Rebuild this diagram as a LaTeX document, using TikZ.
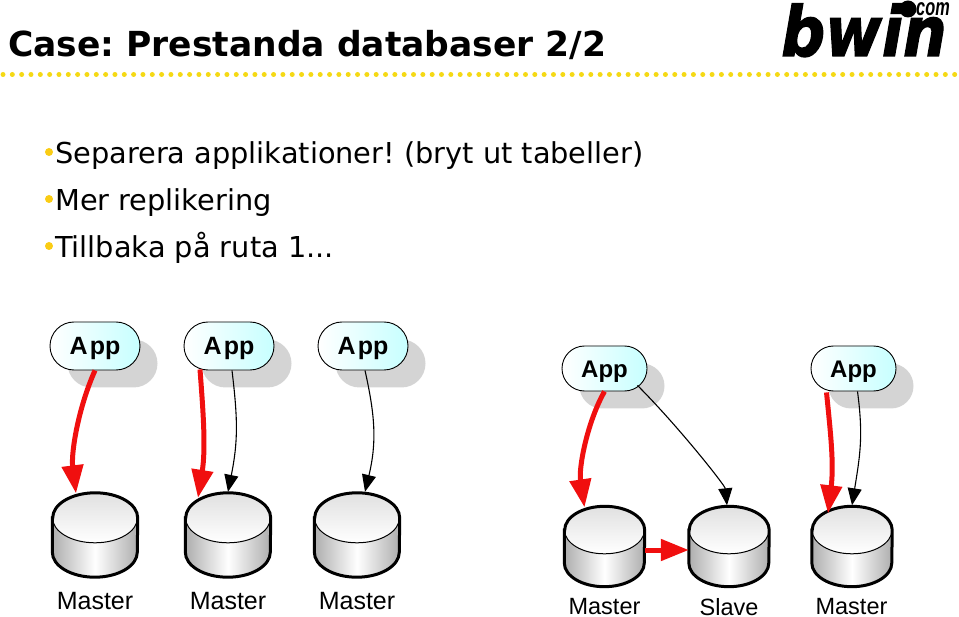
\documentclass[tikz,border=0pt]{standalone}
\usepackage{graphicx}
\usepackage{fontspec}
\setmainfont{DejaVu Sans}
\newfontfamily\arial{Liberation Sans}
\newfontfamily\logofont[UprightFont=* Bold Oblique,FakeBold=2]{DejaVu Sans}
\usetikzlibrary{arrows.meta,shapes.misc,shadows}
\definecolor{dotyellow}{RGB}{245,217,20}
\definecolor{bulletyellow}{RGB}{250,204,20}
\definecolor{linkred}{RGB}{240,15,15}
\tikzset{
  appbox/.style={rounded rectangle,draw,line width=0.9pt,left color=white,right color=cyan!22,
    minimum width=90pt,minimum height=48pt,inner sep=0pt,text=black,text height=20pt,text depth=2pt,
    font=\arial\fontsize{25}{25}\selectfont\bfseries,
    drop shadow={shadow xshift=17.5pt,shadow yshift=-17.5pt,opacity=1,fill=black!17}},
  appsmall/.style={appbox,minimum width=85pt,minimum height=45pt,
    font=\arial\fontsize{24}{24}\selectfont\bfseries},
  dbnode/.style={rectangle,inner sep=0pt},
  dbbody/.style={left color=black!32,right color=black!32,middle color=white},
  dbtop/.style={draw,line width=1pt,top color=black!12,bottom color=white},
  dbline/.style={line width=3pt},
  dblabel/.style={font=\arial\fontsize{25}{25}\selectfont,inner sep=0pt},
  dblabelsmall/.style={dblabel,font=\arial\fontsize{23.5}{24}\selectfont},
  bulletline/.style={anchor=base west,inner sep=0pt,font=\fontsize{28.8}{29}\selectfont},
  bulletdot/.style={circle,fill=bulletyellow,minimum size=8pt,inner sep=0pt},
  readlink/.style={line width=5pt,draw=linkred,-{Triangle[length=28pt,width=21pt,fill=linkred]}},
  writelink/.style={line width=1.1pt,-{Triangle[length=17pt,width=14pt]}}
}
% one disk: name, position, radii of the lid, height
\newcommand{\dbdisk}[5]{
  \node[dbnode,minimum width=2*#3 pt,minimum height=#5 pt] (#1) at (#2) {};
  \shade[dbbody] ([yshift=-#4pt]#1.north west) -- ([yshift=#4pt]#1.south west)
    arc [start angle=180,end angle=360,x radius=#3pt,y radius=#4pt]
    -- ([yshift=-#4pt]#1.north east) -- cycle;
  \draw[dbtop] ([yshift=-#4pt]#1.north) ellipse [x radius=#3pt,y radius=#4pt];
  \draw[dbline] ([yshift=-#4pt]#1.north west) -- ([yshift=#4pt]#1.south west)
    arc [start angle=180,end angle=360,x radius=#3pt,y radius=#4pt]
    -- ([yshift=-#4pt]#1.north east)
    arc [start angle=0,end angle=180,x radius=#3pt,y radius=#4pt] -- cycle;
}
\begin{document}
\frenchspacing
\begin{tikzpicture}[x=1pt,y=-1pt]
\useasboundingbox (0,0) rectangle (959,617);

% heading
\node[anchor=base west,inner sep=0pt,font=\fontsize{34.5}{35}\selectfont\bfseries] (title) at (8,57) {Case: Prestanda databaser 2/2};
\draw[dotyellow,line width=5pt,line cap=round,dash pattern=on 0pt off 9.33pt] (3,74.5) -- (959,74.5);

% logo
\node[anchor=base west,inner sep=0pt,font=\logofont\fontsize{69}{69}\selectfont] (logo) at (781,56) {\scalebox{0.89}[1]{bwin}};
\node[circle,fill=black,minimum size=17pt,inner sep=0pt] (logodot) at (908,9) {};
\node[anchor=base west,inner sep=0pt,font=\arial\fontsize{24}{24}\selectfont\bfseries\itshape] (logocom) at (916,16) {\scalebox{0.68}[1]{com}};

% bullets
\node[bulletdot] (b1) at (49,152) {};
\node[bulletdot] (b2) at (49,199) {};
\node[bulletdot] (b3) at (49,246) {};
\node[bulletline] (t1) at (55,164) {Separera applikationer! (bryt ut tabeller)};
\node[bulletline] (t2) at (55,211) {Mer replikering};
\node[bulletline] (t3) at (55,258) {Tillbaka på ruta 1...};

% left group
\node[appbox] (app1) at (95,346) {A\kern2pt pp};
\node[appbox] (app2) at (229,346) {A\kern2pt pp};
\node[appbox] (app3) at (363,346) {A\kern2pt pp};
\dbdisk{m1}{95,535}{42.5}{25}{84}
\dbdisk{m2}{228,535}{42.5}{25}{84}
\dbdisk{m3}{357,535}{42.5}{25}{84}
\node[dblabel] (m1l) at (95,601) {Master};
\node[dblabel] (m2l) at (228,601) {Master};
\node[dblabel] (m3l) at (357,601) {Master};

% right group
\node[appsmall] (app4) at (604.5,368.5) {App};
\node[appsmall] (app5) at (853.5,368.5) {App};
\dbdisk{m4}{604.5,546.5}{40}{23.75}{80}
\dbdisk{s1}{729,546.5}{40}{23.75}{80}
\dbdisk{m5}{852,546.5}{40}{23.75}{80}
\node[dblabelsmall] (m4l) at (604.5,607) {Master};
\node[dblabelsmall] (s1l) at (729,607) {Slave};
\node[dblabelsmall] (m5l) at (851.5,607) {Master};

% links
\draw[readlink] (app1.south) .. controls +(-17,38) and +(-5,-40) .. ([xshift=-19pt,yshift=-0.5pt]m1.north);
\draw[readlink] ([xshift=-29pt,yshift=1pt]app2.south) .. controls +(3,40) and +(8,-50) .. ([xshift=-30pt,yshift=-5pt]m2.north);
\draw[writelink] ([xshift=3pt]app2.south) .. controls +(6,50) and +(10,-50) .. ([yshift=1pt]m2.north);
\draw[writelink] ([xshift=2pt]app3.south) .. controls +(10,45) and +(12,-50) .. ([xshift=8pt,yshift=1pt]m3.north);
\draw[readlink] (app4.south) .. controls +(-17,30) and +(-6,-40) .. ([xshift=-20pt,yshift=-1pt]m4.north);
\draw[writelink] ([xshift=33pt,yshift=6pt]app4.south) .. controls +(40,40) and +(-2,-20) .. ([xshift=-2pt,yshift=1pt]s1.north);
\draw[readlink] ([xshift=-27pt,yshift=-1pt]app5.south) .. controls +(4,40) and +(6,-50) .. ([xshift=-24pt,yshift=-7pt]m5.north);
\draw[writelink] ([xshift=4pt]app5.south) .. controls +(6,45) and +(8,-50) .. ([yshift=1pt]m5.north);
\draw[readlink] ([yshift=-3.5pt]m4.east) -- ([yshift=-3.5pt]s1.west);
\end{tikzpicture}
\end{document}
